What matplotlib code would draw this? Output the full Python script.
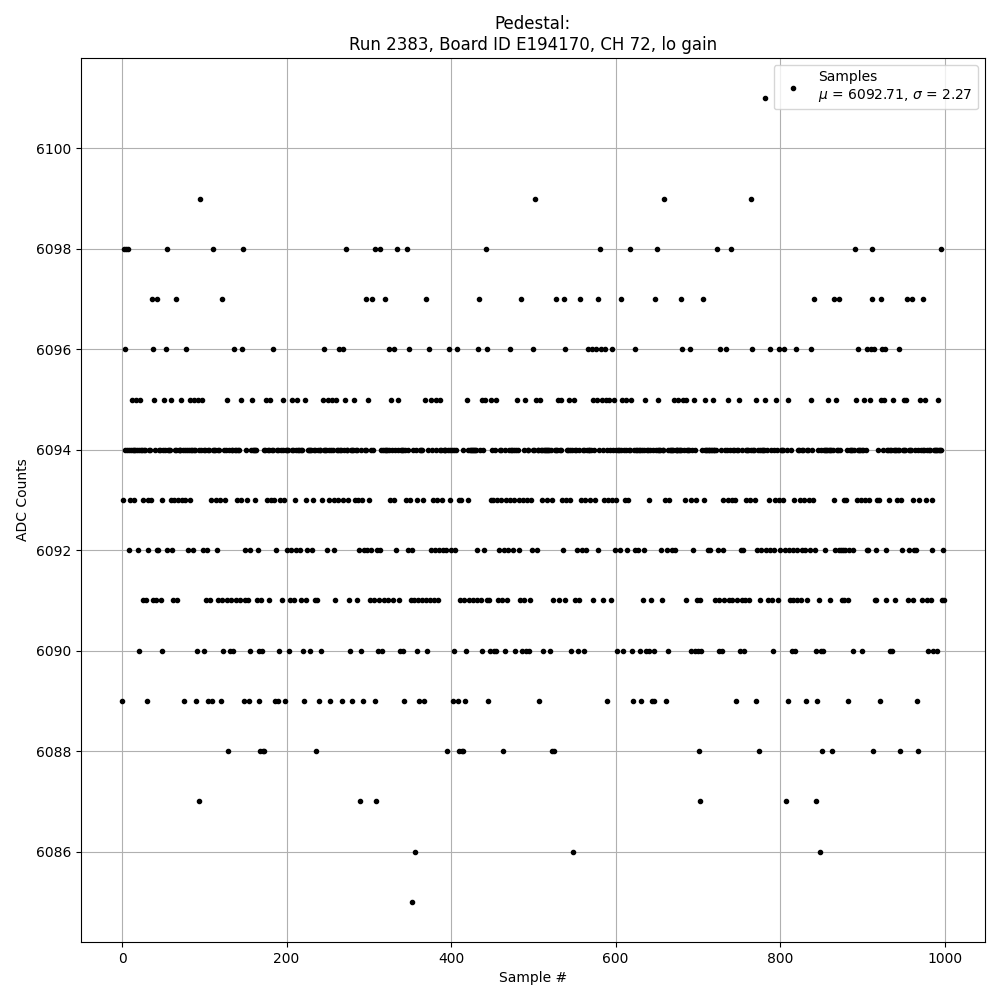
import numpy as np
import matplotlib
matplotlib.use("Agg")
import matplotlib.pyplot as plt

# pedestal run info
run_number = 2383
board_id = "E194170"
channel = 72
gain = "lo"
n_samples = 1000
mu_text = 6092.71
sigma_text = 2.27

# sample indices for each ADC level
# (6094 is the baseline: every sample not listed elsewhere)
base_level = 6094
level_samples = {
    6101: [782],
    6099: [95, 502, 659, 765],
    6098: [2, 5, 7, 55, 110, 147, 272, 307, 313, 334, 346, 442, 581, 617, 650,
           723, 740, 891, 912, 995],
    6097: [36, 43, 66, 121, 296, 304, 320, 370, 434, 485, 528, 537, 557, 578,
           606, 648, 679, 706, 841, 865, 871, 911, 922, 954, 960, 974],
    6096: [4, 38, 53, 78, 136, 146, 184, 245, 264, 268, 324, 331, 349, 373, 397,
           407, 433, 443, 472, 500, 538, 566, 571, 576, 582, 587, 596, 624, 681,
           690, 727, 734, 766, 788, 798, 805, 819, 837, 894, 905, 910, 914, 924,
           927, 945],
    6088: [129, 168, 171, 173, 236, 395, 410, 413, 415, 463, 522, 525, 701, 774,
           851, 863, 914, 946, 968],
    6087: [93, 289, 309, 702, 807, 843],
    6086: [356, 548, 848],
    6085: [352],
    6095: [12, 17, 22, 39, 51, 60, 72, 82, 87, 92, 97, 127, 144, 158, 175, 180,
           196, 207, 213, 222, 244, 250, 255, 260, 271, 282, 299, 327, 335, 368,
           376, 381, 386, 419, 437, 441, 449, 455, 480, 490, 503, 508, 530, 534,
           543, 549, 572, 577, 583, 588, 592, 598, 608, 613, 619, 636, 651, 671,
           676, 682, 686, 695, 709, 718, 737, 750, 770, 781, 795, 809, 838, 858,
           868, 892, 902, 909, 923, 926, 937, 950, 953, 970, 976, 992],
    6090: [20, 49, 92, 100, 123, 131, 135, 155, 166, 171, 191, 203, 220, 229, 242,
           277, 291, 311, 316, 338, 342, 359, 371, 403, 418, 438, 447, 452, 455,
           466, 478, 486, 491, 495, 512, 520, 546, 554, 562, 602, 609, 620, 630,
           637, 641, 646, 664, 692, 696, 701, 704, 727, 729, 751, 756, 791, 814,
           819, 844, 849, 852, 888, 900, 933, 936, 980, 986, 990],
    6089: [0, 30, 75, 91, 104, 110, 120, 148, 155, 167, 186, 190, 198, 221, 239,
           253, 267, 279, 293, 308, 343, 361, 367, 402, 408, 417, 445, 507, 589,
           620, 631, 644, 648, 661, 746, 771, 810, 831, 845, 883, 921, 966],
    6091: [25, 29, 37, 41, 47, 62, 67, 102, 107, 117, 122, 128, 132, 138, 143,
           148, 153, 164, 170, 178, 194, 204, 209, 217, 223, 234, 237, 259, 276,
           285, 301, 306, 312, 318, 323, 329, 337, 351, 355, 360, 365, 369, 374,
           379, 384, 411, 416, 422, 426, 432, 436, 444, 446, 457, 462, 468, 485,
           489, 496, 525, 531, 539, 550, 555, 573, 585, 594, 633, 644, 656, 685,
           699, 703, 721, 726, 732, 738, 742, 748, 753, 757, 762, 775, 785, 790,
           797, 812, 815, 820, 825, 833, 848, 860, 875, 878, 883, 913, 916, 928,
           939, 955, 961, 972, 978, 983, 997, 999],
    6092: [8, 19, 30, 42, 44, 54, 61, 80, 86, 98, 103, 115, 150, 156, 167, 187,
           200, 205, 211, 216, 225, 231, 249, 257, 289, 294, 298, 304, 309, 314,
           333, 348, 353, 375, 380, 385, 390, 395, 400, 405, 431, 440, 458, 464,
           469, 475, 484, 498, 504, 536, 553, 559, 564, 579, 599, 605, 614, 623,
           627, 635, 655, 662, 668, 672, 694, 712, 715, 725, 730, 752, 755, 771,
           777, 783, 787, 792, 800, 806, 811, 816, 821, 826, 831, 836, 843, 854,
           867, 872, 876, 874, 879, 884, 889, 906, 907, 917, 929, 948, 957, 963,
           966, 985, 998],
    6093: [1, 10, 15, 26, 31, 36, 48, 59, 63, 68, 73, 78, 83, 108, 114, 119, 125,
           140, 144, 154, 161, 176, 181, 186, 191, 198, 210, 224, 232, 243, 253,
           258, 263, 269, 275, 283, 287, 292, 300, 326, 330, 345, 350, 358, 366,
           378, 383, 389, 399, 408, 412, 421, 445, 451, 456, 461, 467, 471, 477,
           482, 487, 492, 497, 510, 516, 523, 535, 540, 545, 558, 563, 569, 575,
           586, 591, 595, 601, 611, 615, 640, 661, 665, 684, 691, 698, 707, 731,
           736, 741, 746, 758, 763, 769, 786, 794, 799, 803, 818, 824, 829, 835,
           840, 866, 877, 880, 893, 898, 903, 908, 918, 921, 932, 942, 947, 962,
           969, 977, 984],
}

# build the sample series, nudging misread duplicates to the nearest free slot
adc = np.full(n_samples, -1)
for level, idx_list in level_samples.items():
    for i in idx_list:
        for d in range(n_samples):
            placed = False
            for j in (i - d, i + d):
                if 0 <= j < n_samples and adc[j] < 0:
                    adc[j] = level
                    placed = True
                    break
            if placed:
                break
adc[adc < 0] = base_level
sample_idx = np.arange(n_samples)

fig, ax = plt.subplots(figsize=(10, 10), dpi=100)
ax.plot(sample_idx, adc, '.', color='black',
        label=f"Samples\n$\\mu$ = {mu_text:.2f}, $\\sigma$ = {sigma_text:.2f}")
ax.set_title(f"Pedestal:\nRun {run_number}, Board ID {board_id}, CH {channel}, {gain} gain")
ax.set_xlabel("Sample #")
ax.set_ylabel("ADC Counts")
ax.grid(True)
ax.legend(loc='upper right')

fig.subplots_adjust(left=0.081, right=0.985, top=0.942, bottom=0.058)
plt.savefig("out.png", dpi=100)
